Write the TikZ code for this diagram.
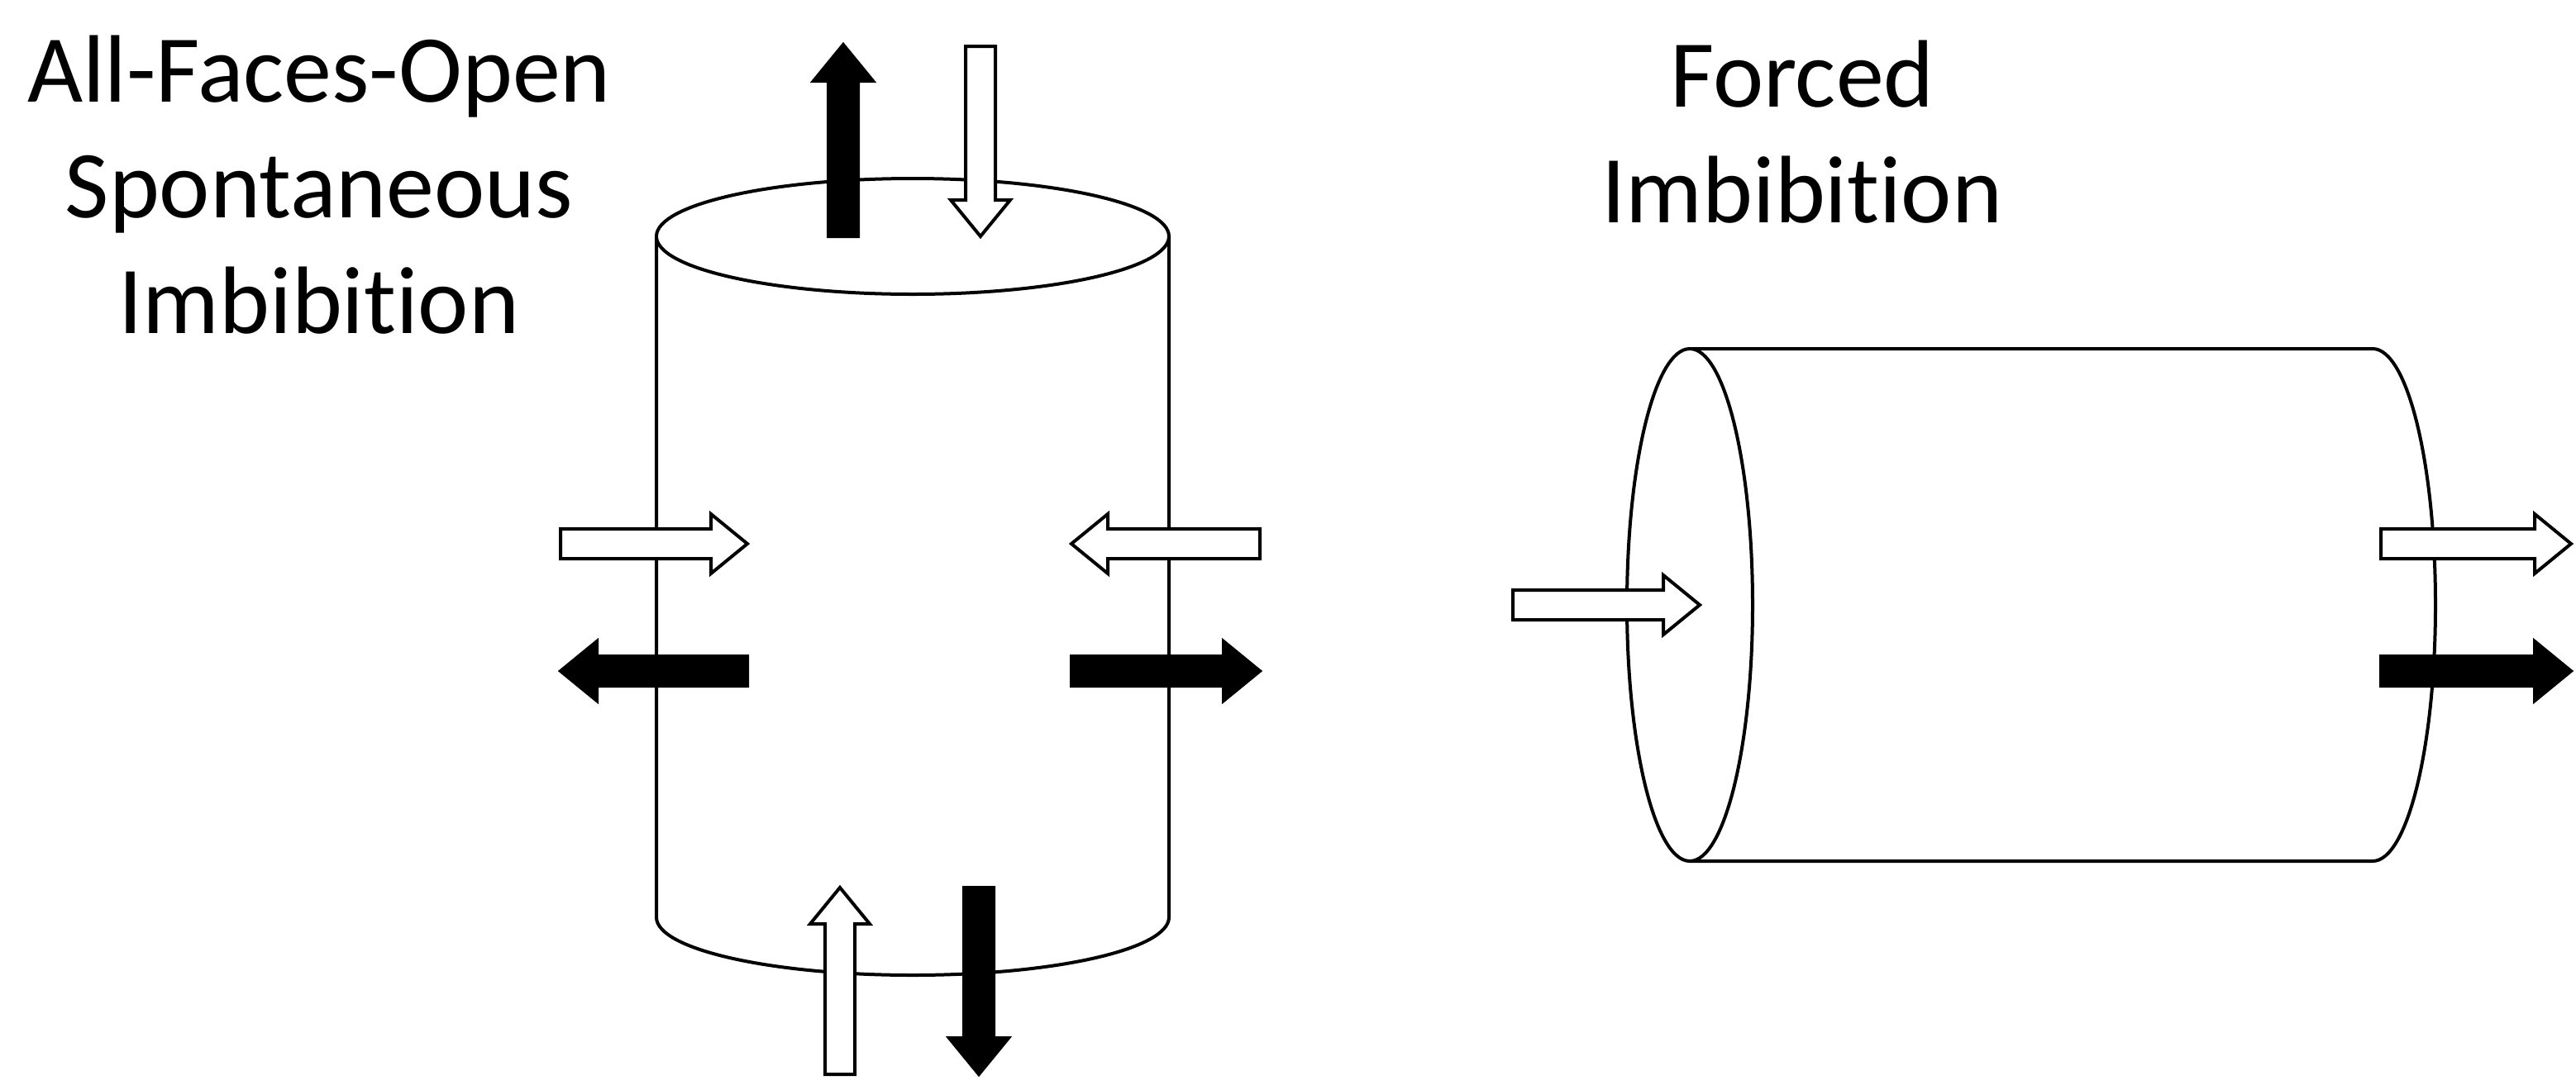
\documentclass[tikz,border=0pt]{standalone}
\usepackage{fontspec}
\setmainfont[RawFeature={-liga;-dlig;-clig}]{Carlito}
\newcommand\blockarrow[5]{%
\begin{scope}[shift={(#2,#3)},rotate=#4]
\draw[line width=2pt,fill=#1] (0,-9)--(#5-22,-9)--(#5-22,-18)--(#5,0)--(#5-22,18)--(#5-22,9)--(0,9)--cycle;
\end{scope}}
\begin{document}
\begin{tikzpicture}[x=1pt,y=-1pt,line join=miter]
\tikzset{lbl/.style={align=center,font=\fontsize{58}{70}\selectfont,inner sep=0pt}}
\useasboundingbox (0,0) rectangle (1558,659);
% vertical cylinder
\draw[line width=2pt] (397,143)--(397,555) arc[start angle=180,end angle=0,x radius=155,y radius=35] -- (707,143);
\draw[line width=2pt,fill=white] (552,143) ellipse[x radius=155,y radius=35];
% horizontal cylinder
\draw[line width=2pt] (1022,211)--(1435,211) arc[start angle=-90,end angle=90,x radius=38,y radius=155] -- (1022,521);
\draw[line width=2pt,fill=white] (1022,366) ellipse[x radius=38,y radius=155];
% arrows
\blockarrow{black}{510}{143}{90}{116}
\blockarrow{white}{593}{28}{-90}{115}
\blockarrow{white}{339}{329}{0}{113}
\blockarrow{black}{452}{406}{180}{113}
\blockarrow{white}{762}{329}{180}{114}
\blockarrow{black}{648}{406}{0}{114}
\blockarrow{white}{508}{650}{90}{113}
\blockarrow{black}{592}{537}{-90}{113}
\blockarrow{white}{915}{366}{0}{113}
\blockarrow{white}{1440}{329}{0}{115}
\blockarrow{black}{1440}{406}{0}{115}
\node[lbl] (t1) at (193,112) {All-Faces-Open\\Spontaneous\\Imbibition};
\node[lbl] (t2) at (1090,80) {Forced\\Imbibition};
\end{tikzpicture}
\end{document}
